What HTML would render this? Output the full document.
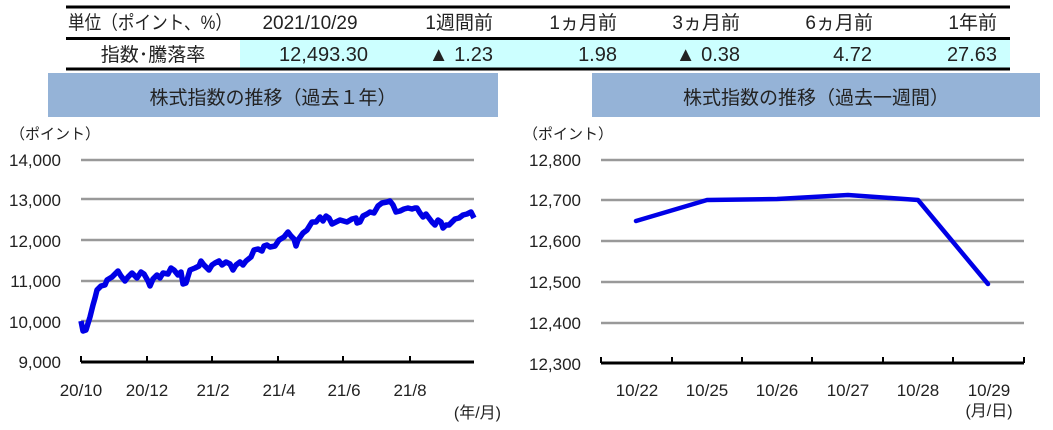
<!DOCTYPE html>
<html><head><meta charset="utf-8"><style>
body{margin:0;width:1053px;height:425px;background:#fff;overflow:hidden;font-family:"Liberation Sans","Noto Sans CJK JP",sans-serif;}
svg text{font-family:"Liberation Sans","Noto Sans CJK JP",sans-serif;fill:#222;}
</style></head><body>
<svg width="1053" height="425" viewBox="0 0 1053 425" xmlns="http://www.w3.org/2000/svg">
<rect x="240" y="40" width="770" height="28" fill="#ccffff"/>
<line x1="66" y1="7" x2="1010" y2="7" stroke="#000" stroke-width="3"/>
<line x1="66" y1="38.5" x2="1010" y2="38.5" stroke="#000" stroke-width="3"/>
<line x1="66" y1="69" x2="1010" y2="69" stroke="#000" stroke-width="3"/>
<g font-size="19">
<text x="68" y="29" textLength="164" lengthAdjust="spacingAndGlyphs">単位（ポイント、%）</text>
<text x="310" y="29" text-anchor="middle">2021/10/29</text>
<text x="493" y="29" text-anchor="end">1週間前</text>
<text x="617" y="29" text-anchor="end">1ヵ月前</text>
<text x="740" y="29" text-anchor="end">3ヵ月前</text>
<text x="873" y="29" text-anchor="end">6ヵ月前</text>
<text x="997" y="29" text-anchor="end">1年前</text>
<text x="153" y="61" text-anchor="middle">指数･騰落率</text>
<text x="368" y="61" text-anchor="end" font-size="20">12,493.30</text>
<text x="493" y="61" text-anchor="end" font-size="20">▲ 1.23</text>
<text x="617" y="61" text-anchor="end" font-size="20">1.98</text>
<text x="740" y="61" text-anchor="end" font-size="20">▲ 0.38</text>
<text x="872" y="61" text-anchor="end" font-size="20">4.72</text>
<text x="997" y="61" text-anchor="end" font-size="20">27.63</text>
</g>
<rect x="48" y="73" width="450" height="44" fill="#95b3d7"/>
<rect x="592" y="73" width="448" height="44" fill="#95b3d7"/>
<text x="273" y="104" font-size="19" text-anchor="middle">株式指数の推移（過去１年）</text>
<text x="816" y="104" font-size="19" text-anchor="middle">株式指数の推移（過去一週間）</text>
<g font-size="17">
<text x="10" y="139" font-size="15">（ポイント）</text>
<text x="61" y="166" text-anchor="end">14,000</text>
<text x="61" y="206" text-anchor="end">13,000</text>
<text x="61" y="247" text-anchor="end">12,000</text>
<text x="61" y="287" text-anchor="end">11,000</text>
<text x="61" y="328" text-anchor="end">10,000</text>
<text x="61" y="368" text-anchor="end">9,000</text>
<text x="81" y="396" text-anchor="middle">20/10</text>
<text x="147" y="396" text-anchor="middle">20/12</text>
<text x="213" y="396" text-anchor="middle">21/2</text>
<text x="279" y="396" text-anchor="middle">21/4</text>
<text x="344" y="396" text-anchor="middle">21/6</text>
<text x="410" y="396" text-anchor="middle">21/8</text>
<text x="501" y="418" text-anchor="end" font-size="16">(年/月)</text>
</g>
<g stroke="#999" stroke-width="2.5">
<line x1="81" y1="160" x2="474" y2="160"/><line x1="81" y1="199" x2="474" y2="199"/>
<line x1="81" y1="240" x2="474" y2="240"/><line x1="81" y1="281" x2="474" y2="281"/>
<line x1="81" y1="321" x2="474" y2="321"/>
</g>
<g stroke="#000" stroke-width="2">
<line x1="81" y1="362" x2="474" y2="362" stroke-width="3"/>
<line x1="81" y1="356" x2="81" y2="362"/><line x1="147" y1="356" x2="147" y2="362"/>
<line x1="212" y1="356" x2="212" y2="362"/><line x1="278" y1="356" x2="278" y2="362"/>
<line x1="343" y1="356" x2="343" y2="362"/><line x1="410" y1="356" x2="410" y2="362"/>
</g>
<polyline fill="none" stroke="#0000e6" stroke-width="5.5" stroke-linejoin="round" points="81,321 83,331 86,330 90,317 93,305 95,298 97,290 101,286 105,285 107,280 112,277 118,271 121,276 125,281 128,277 132,273 137,278 141,272 144,274 148,281 150,286 153,279 157,275 160,278 163,273 168,274 171,268 174,270 178,275 181,272 183,284 186,283 190,270 195,268 199,266 201,261 204,265 209,270 212,265 215,263 219,261 222,265 226,262 230,264 233,270 236,265 240,262 243,265 246,261 251,257 254,250 258,249 262,251 264,246 267,245 270,247 275,246 279,240 284,237 288,232 291,236 294,239 296,246 298,240 303,233 307,230 312,222 316,222 320,217 323,221 326,216 329,218 332,224 336,222 340,220 347,222 352,219 356,218 357,223 360,222 363,216 367,214 370,212 374,213 378,206 382,203 387,202 390,201 393,205 396,212 400,211 404,209 408,208 412,209 415,208 417,208 420,213 423,217 426,214 429,218 432,222 435,225 438,220 441,222 443,228 446,225 449,225 452,222 455,219 459,218 463,215 467,214 471,212 474,218"/>
<g font-size="17">
<text x="523" y="139" font-size="15">（ポイント）</text>
<text x="581" y="166" text-anchor="end">12,800</text>
<text x="581" y="206" text-anchor="end">12,700</text>
<text x="581" y="247" text-anchor="end">12,600</text>
<text x="581" y="288" text-anchor="end">12,500</text>
<text x="581" y="329" text-anchor="end">12,400</text>
<text x="581" y="370" text-anchor="end">12,300</text>
<text x="637" y="396" text-anchor="middle">10/22</text>
<text x="707" y="396" text-anchor="middle">10/25</text>
<text x="777" y="396" text-anchor="middle">10/26</text>
<text x="848" y="396" text-anchor="middle">10/27</text>
<text x="918" y="396" text-anchor="middle">10/28</text>
<text x="989" y="396" text-anchor="middle">10/29</text>
<text x="989" y="416" text-anchor="middle" font-size="16">(月/日)</text>
</g>
<g stroke="#999" stroke-width="2.5">
<line x1="601" y1="160" x2="1024" y2="160"/><line x1="601" y1="200" x2="1024" y2="200"/>
<line x1="601" y1="241" x2="1024" y2="241"/><line x1="601" y1="282" x2="1024" y2="282"/>
<line x1="601" y1="323" x2="1024" y2="323"/>
</g>
<g stroke="#000" stroke-width="2">
<line x1="601" y1="363" x2="1024" y2="363" stroke-width="3"/>
<line x1="601" y1="357" x2="601" y2="363"/><line x1="672" y1="357" x2="672" y2="363"/>
<line x1="742" y1="357" x2="742" y2="363"/><line x1="812" y1="357" x2="812" y2="363"/>
<line x1="883" y1="357" x2="883" y2="363"/><line x1="953" y1="357" x2="953" y2="363"/>
<line x1="1024" y1="357" x2="1024" y2="363"/>
</g>
<polyline fill="none" stroke="#0000e6" stroke-width="4.5" stroke-linejoin="round" stroke-linecap="round" points="636,221 707,200 777,199 848,195 918,200 988,284"/>
</svg>
</body></html>
